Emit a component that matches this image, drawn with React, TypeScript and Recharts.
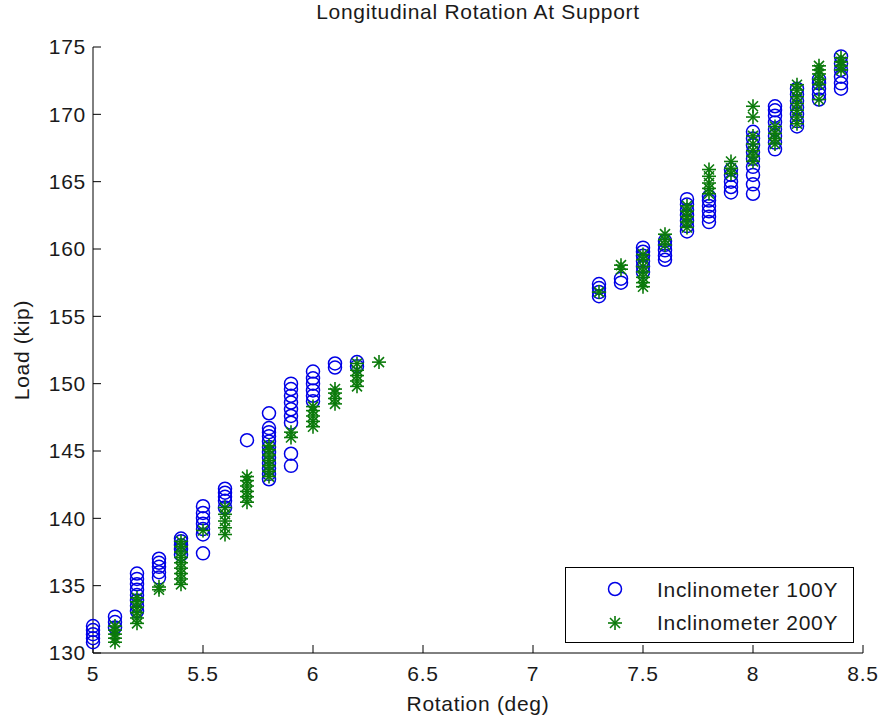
import { ScatterChart, Scatter, XAxis, YAxis } from 'recharts';

// Rotation steps (deg) and measured loads (kip) at each step
const rotation100 = [
  5.0, 5.1, 5.2, 5.3, 5.4, 5.5, 5.6, 5.7, 5.8, 5.9, 6.0, 6.1, 6.2,
  7.3, 7.4, 7.5, 7.6, 7.7, 7.8, 7.9, 8.0, 8.1, 8.2, 8.3, 8.4,
];
const load100: number[][] = [
  [130.8, 131.1, 131.4, 131.7, 132.0],
  [131.9, 132.3, 132.7],
  [133.1, 133.5, 133.9, 134.3, 134.7, 135.1, 135.5, 135.9],
  [135.6, 136.0, 136.4, 136.7, 137.0],
  [137.3, 137.7, 138.0, 138.3, 138.5],
  [137.4, 138.8, 139.2, 139.6, 140.0, 140.4, 140.9],
  [140.8, 141.3, 141.6, 141.9, 142.2],
  [145.8],
  [142.9, 143.3, 143.7, 144.1, 144.5, 144.9, 145.3, 145.7, 146.1, 146.4, 146.7, 147.8],
  [143.9, 144.8, 147.1, 147.6, 148.1, 148.6, 149.1, 149.6, 150.0],
  [148.7, 149.1, 149.5, 150.0, 150.4, 150.9],
  [151.2, 151.5],
  [151.3, 151.6],
  [156.5, 156.8, 157.1, 157.4],
  [157.5, 157.8],
  [158.3, 158.7, 159.1, 159.5, 159.8, 160.1],
  [159.2, 159.5, 159.9, 160.3, 160.6],
  [161.3, 161.7, 162.1, 162.5, 162.9, 163.3, 163.7],
  [162.0, 162.4, 162.8, 163.2, 163.6, 163.9],
  [164.2, 164.6, 165.0, 165.5, 165.9],
  [164.1, 164.8, 165.5, 166.1, 166.7, 167.2, 167.7, 168.2, 168.7],
  [167.4, 167.9, 168.4, 168.9, 169.4, 169.9, 170.3, 170.6],
  [169.1, 169.5, 170.0, 170.5, 171.0, 171.5, 171.9],
  [171.1, 171.5, 171.9, 172.3, 172.6],
  [171.9, 172.3, 172.8, 173.3, 173.8, 174.3],
];

const rotation200 = [
  5.1, 5.2, 5.3, 5.4, 5.5, 5.6, 5.7, 5.8, 5.9, 6.0, 6.1, 6.2, 6.3,
  7.3, 7.4, 7.5, 7.6, 7.7, 7.8, 7.9, 8.0, 8.1, 8.2, 8.3, 8.4,
];
const load200: number[][] = [
  [130.8, 131.1, 131.4, 131.7, 132.0],
  [132.2, 132.6, 133.0, 133.4, 133.8, 134.1],
  [134.7, 134.9],
  [135.1, 135.5, 135.9, 136.3, 136.7, 137.1, 137.5, 137.9, 138.3],
  [139.1],
  [138.8, 139.3, 139.8, 140.3, 140.8],
  [141.2, 141.6, 142.0, 142.4, 142.8, 143.1],
  [143.1, 143.5, 143.9, 144.3, 144.7, 145.1, 145.4],
  [146.0, 146.4],
  [146.8, 147.2, 147.6, 148.0, 148.3],
  [148.5, 148.9, 149.3, 149.6],
  [149.8, 150.2, 150.6, 151.0, 151.5],
  [151.6],
  [156.8],
  [158.5, 158.8],
  [157.2, 157.5, 157.9, 158.3, 158.7, 159.2, 159.6],
  [160.3, 160.7, 161.1],
  [161.6, 162.0, 162.4, 162.8, 163.2],
  [164.1, 164.5, 164.9, 165.4, 165.9],
  [165.6, 166.0, 166.5],
  [166.5, 166.9, 167.3, 167.8, 168.4, 169.8, 170.6],
  [167.8, 168.2, 168.6, 169.1],
  [169.3, 169.8, 170.3, 170.8, 171.3, 171.8, 172.2],
  [171.1, 172.2, 172.6, 173.0, 173.3, 173.6],
  [173.3, 173.6, 173.9, 174.2],
];

const xTicks = [5, 5.5, 6, 6.5, 7, 7.5, 8, 8.5];
const yTicks = [130, 135, 140, 145, 150, 155, 160, 165, 170, 175];

const BLUE = '#0000e6';
const GREEN = '#0b7a0b';
const INK = '#1a1a1a';
const FONT = '"Liberation Sans", Arial, Helvetica, sans-serif';
const SPACING = '0.7px';

const toPoints = (xs: number[], ys: number[][]) =>
  xs.flatMap((x, i) => ys[i].map((y) => ({ x, y })));

const points100 = toPoints(rotation100, load100);
const points200 = toPoints(rotation200, load200);

function Ring({ cx, cy }: { cx?: number; cy?: number }) {
  return <circle cx={cx} cy={cy} r={6.5} fill="none" stroke={BLUE} strokeWidth={1.5} />;
}

function Asterisk({ cx = 0, cy = 0 }: { cx?: number; cy?: number }) {
  const a = 7;
  const d = 5;
  return (
    <g stroke={GREEN} strokeWidth={1.6}>
      <line x1={cx - a} y1={cy} x2={cx + a} y2={cy} />
      <line x1={cx} y1={cy - a} x2={cx} y2={cy + a} />
      <line x1={cx - d} y1={cy - d} x2={cx + d} y2={cy + d} />
      <line x1={cx - d} y1={cy + d} x2={cx + d} y2={cy - d} />
    </g>
  );
}

function LegendBox() {
  return (
    <svg
      width={289}
      height={76}
      style={{ position: 'absolute', left: 565, top: 567, fontFamily: FONT, letterSpacing: SPACING }}
    >
      <rect x={0.5} y={0.5} width={288} height={75} fill="#fff" stroke="#000" />
      <Ring cx={50} cy={22} />
      <text x={92} y={22} dy="0.36em" fontSize={21} fill={INK}>
        Inclinometer 100Y
      </text>
      <Asterisk cx={50} cy={56} />
      <text x={92} y={55} dy="0.36em" fontSize={21} fill={INK}>
        Inclinometer 200Y
      </text>
    </svg>
  );
}

export default function App() {
  const textStyle = { fill: INK, fontSize: 21, fontFamily: FONT, letterSpacing: SPACING };
  return (
    <div style={{ position: 'absolute', left: 0, top: 0, width: 884, height: 721, background: '#fff' }}>
      <div
        style={{
          position: 'absolute',
          left: 93,
          width: 770,
          top: 0,
          textAlign: 'center',
          fontFamily: FONT,
          fontSize: 21,
          letterSpacing: SPACING,
          color: INK,
        }}
      >
        Longitudinal Rotation At Support
      </div>
      <ScatterChart width={884} height={721} margin={{ top: 47, right: 21, bottom: 0, left: 0 }}>
        <XAxis
          type="number"
          dataKey="x"
          domain={[5, 8.5]}
          ticks={xTicks}
          tickFormatter={(v) => String(v)}
          height={68}
          stroke="#000"
          tickSize={-8}
          tickMargin={21}
          tick={{ ...textStyle, style: textStyle }}
          label={{
            value: 'Rotation (deg)',
            position: 'insideBottom',
            offset: 10,
            style: textStyle,
          }}
        />
        <YAxis
          type="number"
          dataKey="y"
          domain={[130, 175]}
          ticks={yTicks}
          width={93}
          stroke="#000"
          tickSize={-8}
          tickMargin={15}
          tick={{ ...textStyle, style: textStyle }}
          label={{
            value: 'Load (kip)',
            angle: -90,
            position: 'insideLeft',
            offset: 22,
            style: { ...textStyle, textAnchor: 'middle' },
          }}
        />
        <Scatter name="Inclinometer 100Y" data={points100} shape={<Ring />} isAnimationActive={false} />
        <Scatter name="Inclinometer 200Y" data={points200} shape={<Asterisk />} isAnimationActive={false} />
      </ScatterChart>
      <LegendBox />
    </div>
  );
}
